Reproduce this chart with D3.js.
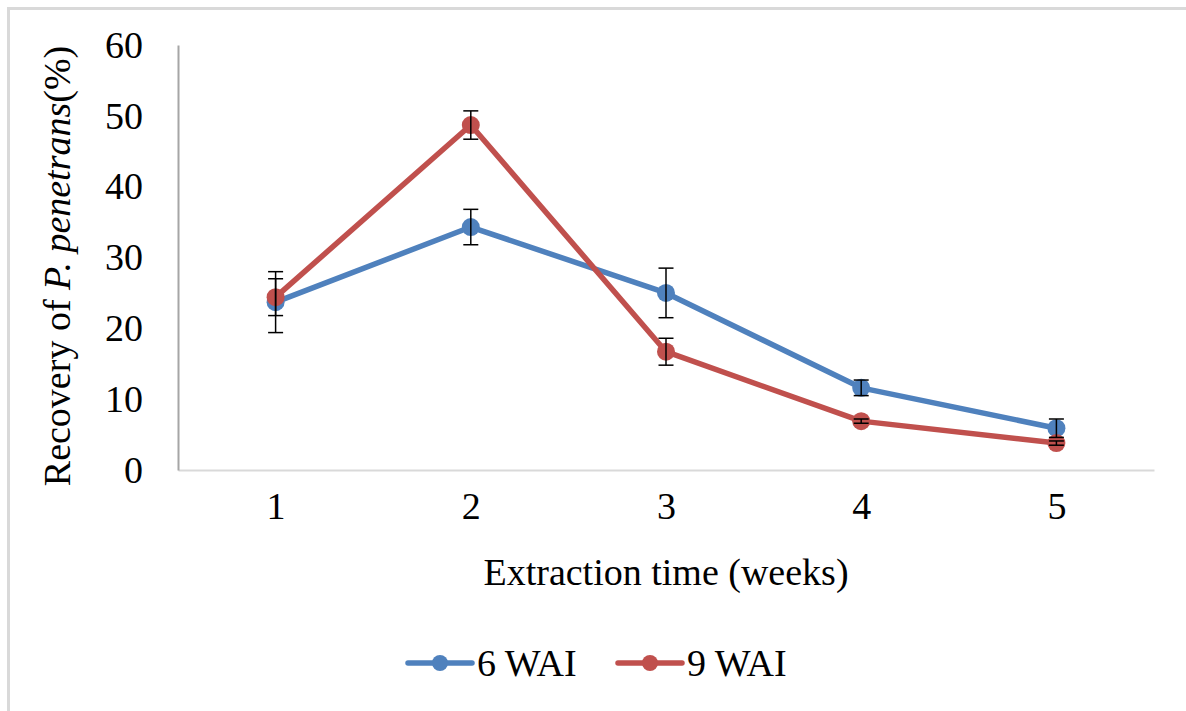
<!DOCTYPE html>
<html>
<head>
<meta charset="utf-8">
<script src="https://cdn.jsdelivr.net/npm/d3@7"></script>
<style>
  body { margin: 0; background: #fff; }
  svg text { font-family: "Times New Roman", "Liberation Serif", "DejaVu Serif", serif; fill: #000; }
</style>
</head>
<body>
<svg id="chart" width="1186" height="711"></svg>
<script>
// data
var weeks = ['1', '2', '3', '4', '5']
var seriesNames = ['6 WAI', '9 WAI']
var wai6 = [23.7, 34.3, 25.0, 11.6, 5.9]
var wai6Err = [4.3, 2.5, 3.5, 1.1, 1.3]
var wai9 = [24.4, 48.7, 16.7, 6.9, 3.8]
var wai9Err = [2.6, 2.0, 1.9, 0.3, 0.3]
var yTicks = [0, 10, 20, 30, 40, 50, 60]

var colors = ['#4f81bd', '#c0504d']
var serif = '"Times New Roman", "Liberation Serif", "DejaVu Serif", serif'

var margin = {top: 45, left: 178, right: 32, bottom: 241},
    width = 1186 - margin.left - margin.right,
    height = 711 - margin.top - margin.bottom

var svg = d3.select('#chart')

// outer frame (only top and left edges show in the crop)
svg.append('path')
  .attr('d', 'M8.5,711 V8.5 H1186')
  .attr('fill', 'none')
  .attr('stroke', '#d9d9d9')
  .attr('stroke-width', 3)

var g = svg.append('g')
  .attr('transform', 'translate(' + margin.left + ',' + margin.top + ')')

var x = d3.scalePoint()
  .domain(weeks)
  .range([0, width])
  .padding(0.5)

var y = d3.scaleLinear()
  .domain([0, 60])
  .range([height, 0])

// axes
var xAxis = g.append('g')
  .attr('transform', 'translate(0,' + height + ')')
  .attr('font-family', null)
  .call(d3.axisBottom(x).tickSize(0).tickPadding(22))
xAxis.attr('font-family', serif).attr('font-size', 38)
xAxis.select('.domain').attr('stroke', '#d9d9d9').attr('stroke-width', 2)

var yAxis = g.append('g')
  .call(d3.axisLeft(y).tickValues(yTicks).tickSize(0).tickPadding(35))
yAxis.attr('font-family', serif).attr('font-size', 38)
yAxis.select('.domain').attr('stroke', '#a6a6a6').attr('stroke-width', 2)

// axis titles
g.append('text')
  .attr('x', width / 2)
  .attr('y', height + 115)
  .attr('text-anchor', 'middle')
  .style('font-size', '38px')
  .text('Extraction time (weeks)')

var yTitle = svg.append('text')
  .attr('transform', 'translate(70,266) rotate(-90)')
  .attr('text-anchor', 'middle')
  .style('font-size', '38px')
yTitle.append('tspan').text('Recovery of ')
yTitle.append('tspan').style('font-style', 'italic').text('P. penetrans')
yTitle.append('tspan').text('(%)')

// series
var series = [
  {name: seriesNames[0], values: wai6, err: wai6Err, color: colors[0]},
  {name: seriesNames[1], values: wai9, err: wai9Err, color: colors[1]}
]

var line = d3.line()
  .x(function(d, i) {return x(weeks[i])})
  .y(function(d) {return y(d)})

series.forEach(function(s) {
  g.append('path')
    .datum(s.values)
    .attr('fill', 'none')
    .attr('stroke', s.color)
    .attr('stroke-width', 5.5)
    .attr('stroke-linejoin', 'round')
    .attr('d', line)

  g.selectAll(null)
    .data(s.values)
    .enter()
    .append('circle')
    .attr('cx', function(d, i) {return x(weeks[i])})
    .attr('cy', function(d) {return y(d)})
    .attr('r', 9)
    .attr('fill', s.color)
})

// error bars on top
series.forEach(function(s) {
  var eb = g.selectAll(null)
    .data(s.values)
    .enter()
    .append('g')
    .attr('stroke', '#000')
    .attr('stroke-width', 1.5)
  eb.append('line')
    .attr('x1', function(d, i) {return x(weeks[i])})
    .attr('x2', function(d, i) {return x(weeks[i])})
    .attr('y1', function(d, i) {return y(d - s.err[i])})
    .attr('y2', function(d, i) {return y(d + s.err[i])})
  eb.append('line')
    .attr('x1', function(d, i) {return x(weeks[i]) - 7.5})
    .attr('x2', function(d, i) {return x(weeks[i]) + 7.5})
    .attr('y1', function(d, i) {return y(d + s.err[i])})
    .attr('y2', function(d, i) {return y(d + s.err[i])})
  eb.append('line')
    .attr('x1', function(d, i) {return x(weeks[i]) - 7.5})
    .attr('x2', function(d, i) {return x(weeks[i]) + 7.5})
    .attr('y1', function(d, i) {return y(d - s.err[i])})
    .attr('y2', function(d, i) {return y(d - s.err[i])})
})

// legend
var legendX = [408, 618]
var legend = svg.selectAll('.legend')
  .data(series)
  .enter()
  .append('g')
  .attr('class', 'legend')
  .attr('transform', function(d, i) {return 'translate(' + legendX[i] + ',663)'})

legend.append('line')
  .attr('x1', 0).attr('x2', 64)
  .attr('stroke', function(d) {return d.color})
  .attr('stroke-width', 5.5)
  .attr('stroke-linecap', 'round')
legend.append('circle')
  .attr('cx', 32).attr('r', 8)
  .attr('fill', function(d) {return d.color})
legend.append('text')
  .attr('x', 69)
  .attr('dy', '0.35em')
  .style('font-size', '38px')
  .text(function(d) {return d.name})
</script>
</body>
</html>
